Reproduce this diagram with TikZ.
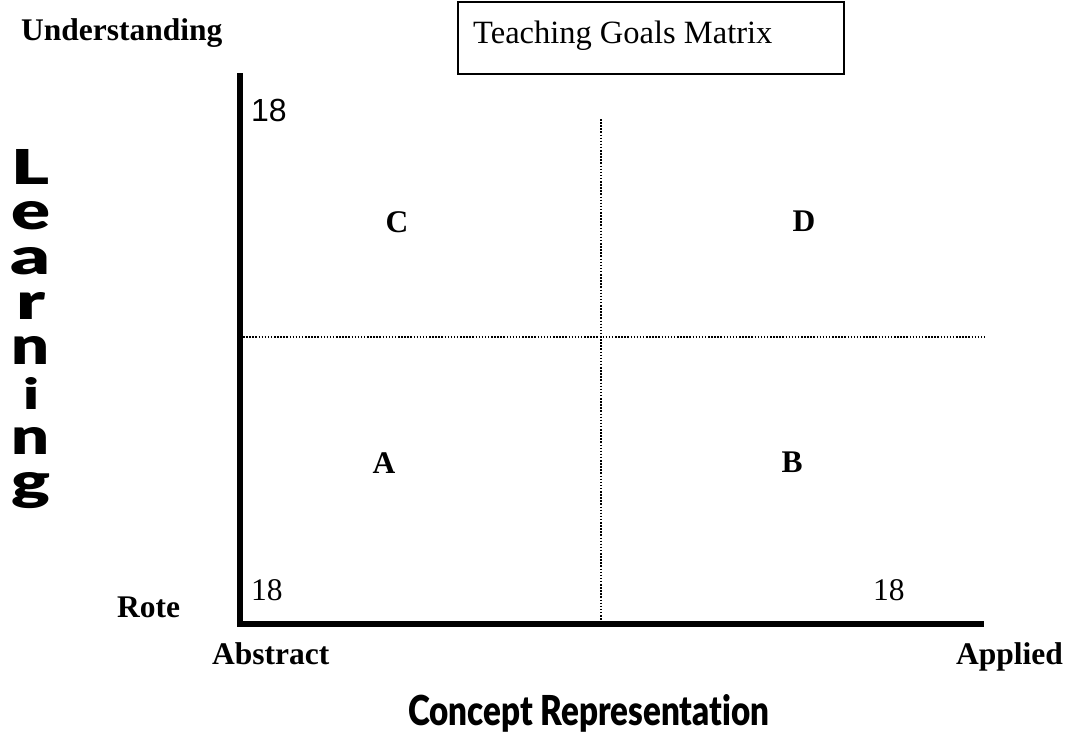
\documentclass[tikz,border=0pt]{standalone}
\usepackage{fontspec}
\setmainfont{Liberation Serif}
\newfontfamily\arialfont{Liberation Sans}
\newfontfamily\heavyfont[Ligatures=NoCommon]{Lato Black}
\begin{document}
\begin{tikzpicture}[x=1pt,y=-1pt,
  bflbl/.style={font=\fontsize{31.5}{36}\selectfont\bfseries, inner sep=0pt, anchor=base west},
  rmlbl/.style={font=\fontsize{31.5}{36}\selectfont, inner sep=0pt, anchor=base west},
  quad/.style={font=\fontsize{31.5}{36}\selectfont\bfseries, inner sep=0pt},
  axisline/.style={line width=6pt, line join=miter},
  gridline/.style={line width=1.5pt, dash pattern=on 1.5pt off 1.6pt},
  vertword/.style={font=\heavyfont\fontsize{10}{12}\selectfont, inner sep=0pt, anchor=north}]
\useasboundingbox (0,0) rectangle (1078,740);

% title box
\node[draw, line width=1.5pt, minimum width=386pt, minimum height=72pt, inner sep=0pt, anchor=north west] (titlebox) at (457,1) {};
\node[font=\fontsize{32.5}{36}\selectfont, inner sep=0pt, anchor=base west] (title) at (473,43) {Teaching Goals Matrix};

% axes
\coordinate (ytop) at (240,73);
\coordinate (origin) at (240,624);
\coordinate (xend) at (984,624);
\draw[axisline] (ytop) -- (origin) -- (xend);

% dotted dividers
\coordinate (vtop) at (601,119);
\coordinate (vbot) at (601,621);
\coordinate (hleft) at (243,337);
\coordinate (hright) at (985,337);
\draw[gridline] (vtop) -- (vbot);
\draw[gridline] (hleft) -- (hright);

% axis labels
\node[bflbl] (under) at (21,40) {Understanding};
\node[bflbl] (rote) at (117,617) {Rote};
\node[bflbl] (abstract) at (212,664) {Abstract};
\node[bflbl] (applied) at (956,664) {Applied};

\node[font=\arialfont\fontsize{32}{36}\selectfont, inner sep=0pt, anchor=base west] (ytick) at (251,121) {18};
\node[rmlbl] (x0tick) at (251,600) {18};
\node[rmlbl] (x1tick) at (873,600) {18};

% quadrant letters
\node[quad] (qC) at (397,222) {C};
\node[quad] (qD) at (804,221) {D};
\node[quad] (qA) at (384,463) {A};
\node[quad] (qB) at (792,462) {B};

% vertical word, one letter per line
\node[vertword] (learning) at (31,149) {\vbox{\baselineskip=45.1pt\lineskiplimit=-100pt\lineskip=0pt
  \halign{\hfil#\hfil\cr
  \resizebox{38pt}{35pt}{L}\cr
  \resizebox{39pt}{28pt}{e}\cr
  \resizebox{40pt}{27pt}{a}\cr
  \resizebox{29pt}{27pt}{r}\cr
  \resizebox{38pt}{28pt}{n}\cr
  \resizebox{16pt}{32pt}{i}\cr
  \resizebox{38pt}{27pt}{n}\cr
  \resizebox{39pt}{27pt}{g}\cr}}};

% bottom title
\node[inner sep=0pt, anchor=base west] (concept) at (408,725) {\resizebox{361pt}{31pt}{\heavyfont\fontsize{10}{12}\selectfont Concept Representation}};
\end{tikzpicture}
\end{document}
